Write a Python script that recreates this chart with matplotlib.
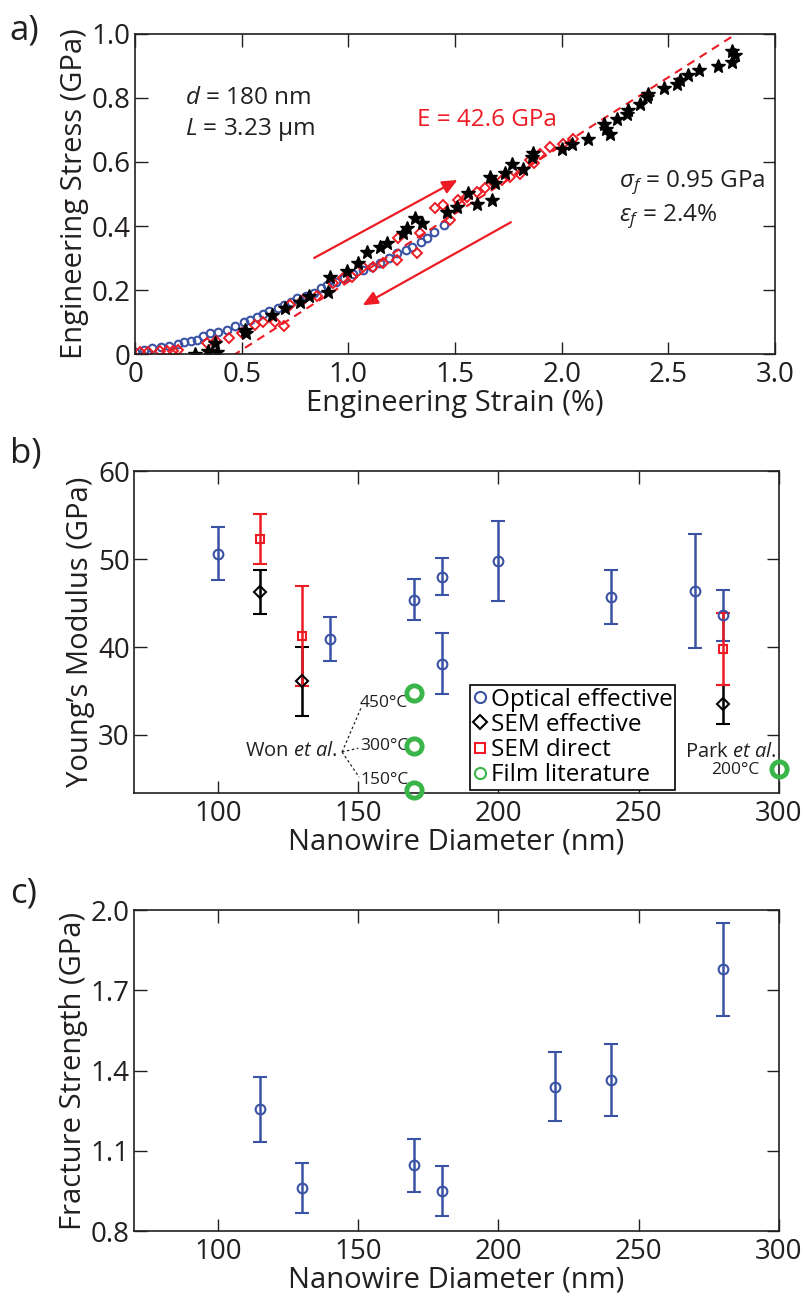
import numpy as np
import matplotlib
matplotlib.use("Agg")
import matplotlib.pyplot as plt
from matplotlib.lines import Line2D

plt.rcParams['font.family'] = ['Open Sans', 'DejaVu Sans']
plt.rcParams['mathtext.fontset'] = 'custom'
plt.rcParams['mathtext.rm'] = 'Open Sans'
plt.rcParams['mathtext.it'] = 'Open Sans:italic'

BLUE = '#3a53a4'
RED = '#ed1c24'
GREEN = '#3ab54a'
DARK = '#231f20'

# ---- panel a: stress-strain ----
opt_strain = [0.0, 0.04, 0.08, 0.12, 0.16, 0.2, 0.23, 0.26, 0.29, 0.32, 0.35, 0.39, 0.43, 0.47,
              0.51, 0.54, 0.57, 0.6, 0.63, 0.67, 0.7, 0.73, 0.76, 0.8, 0.84, 0.87, 0.9, 0.94,
              0.98, 1.02, 1.07, 1.11, 1.15, 1.19, 1.23, 1.27, 1.3, 1.34, 1.37, 1.4, 1.45]
opt_stress = [0.005, 0.012, 0.019, 0.022, 0.026, 0.03, 0.036, 0.04, 0.045, 0.055, 0.065, 0.07, 0.076, 0.088,
              0.099, 0.107, 0.117, 0.125, 0.133, 0.145, 0.154, 0.163, 0.174, 0.182, 0.19, 0.205, 0.216, 0.226,
              0.237, 0.25, 0.263, 0.272, 0.283, 0.3, 0.315, 0.325, 0.335, 0.35, 0.361, 0.382, 0.403]

sem_strain = [0.023, 0.06, 0.117, 0.15, 0.18, 0.2, 0.336, 0.38, 0.44, 0.5, 0.56, 0.6, 0.656, 0.698,
              0.727, 0.789, 0.852, 0.93, 0.977, 1.016, 1.07, 1.117, 1.164, 1.227, 1.234, 1.32, 1.336,
              1.406, 1.445, 1.477, 1.516, 1.523, 1.554, 1.601, 1.64, 1.679, 1.72, 1.757, 1.804, 1.851,
              1.87, 1.898, 1.945, 2.007, 2.054]
sem_stress = [0.005, 0.006, 0.008, 0.01, 0.008, 0.012, 0.034, 0.04, 0.05, 0.065, 0.09, 0.1, 0.1, 0.086,
              0.154, 0.169, 0.18, 0.221, 0.237, 0.242, 0.273, 0.273, 0.283, 0.294, 0.361, 0.315, 0.377,
              0.455, 0.465, 0.418, 0.48, 0.47, 0.491, 0.507, 0.52, 0.538, 0.545, 0.553, 0.564, 0.605,
              0.598, 0.626, 0.647, 0.657, 0.673]

star_strain = [0.28, 0.344, 0.383, 0.375, 0.516, 0.52, 0.64, 0.703, 0.773, 0.813, 0.906, 0.914, 0.992,
               1.047, 1.086, 1.148, 1.18, 1.258, 1.273, 1.313, 1.344, 1.461, 1.508, 1.562, 1.601, 1.664,
               1.671, 1.687, 1.734, 1.765, 1.82, 1.859, 1.867, 2.0, 2.046, 2.124, 2.198, 2.207, 2.226,
               2.257, 2.304, 2.312, 2.367, 2.401, 2.406, 2.479, 2.539, 2.554, 2.593, 2.645, 2.734,
               2.796, 2.796, 2.812]
star_stress = [0.0, 0.008, 0.005, 0.034, 0.076, 0.066, 0.123, 0.143, 0.164, 0.18, 0.195, 0.242, 0.258,
               0.283, 0.32, 0.335, 0.348, 0.377, 0.393, 0.424, 0.408, 0.444, 0.46, 0.502, 0.47, 0.553,
               0.481, 0.535, 0.566, 0.595, 0.579, 0.616, 0.628, 0.642, 0.655, 0.673, 0.718, 0.704, 0.688,
               0.735, 0.751, 0.763, 0.782, 0.803, 0.811, 0.831, 0.844, 0.857, 0.873, 0.889, 0.901,
               0.914, 0.948, 0.935]

fit_E = 42.6          # GPa
fit_offset = 0.47     # % strain intercept
fit_strain = [0.4, 2.95]

# ---- panel b: Young's modulus ----
opt_d = [100, 140, 170, 180, 180, 200, 240, 270, 280]
opt_E = [50.6, 40.9, 45.4, 48.0, 38.1, 49.8, 45.7, 46.4, 43.6]
opt_Eerr = [3.0, 2.5, 2.35, 2.1, 3.45, 4.55, 3.1, 6.5, 2.9]

semeff_d = [115, 130, 280]
semeff_E = [46.2, 36.1, 33.5]
semeff_err = [2.5, 3.9, 2.2]

semdir_d = [115, 130, 280]
semdir_E = [52.3, 41.25, 39.8]
semdir_err = [2.85, 5.7, 4.1]

film_d = [170, 170, 170, 300]
film_E = [34.8, 28.8, 23.8, 26.1]

# ---- panel c: fracture strength ----
frac_d = [115, 130, 170, 180, 220, 240, 280]
frac_s = [1.255, 0.961, 1.046, 0.949, 1.34, 1.364, 1.778]
frac_err = [0.122, 0.094, 0.10, 0.094, 0.13, 0.134, 0.174]

TS = 20   # tick labels
LS = 21   # axis labels
fig = plt.figure(figsize=(8.04, 13.02), dpi=100)
axa = fig.add_axes([0.168, 0.7281, 0.796, 0.2458])
axb = fig.add_axes([0.1667, 0.3909, 0.802, 0.2473])
axc = fig.add_axes([0.1667, 0.0545, 0.802, 0.2465])

def style(ax):
    ax.tick_params(direction='in', length=9, width=1, top=True, right=True,
                   labelsize=TS, colors=DARK)
    ax.tick_params(axis='x', pad=5)
    ax.tick_params(axis='y', pad=3)
    for s in ax.spines.values():
        s.set_linewidth(1.2)
        s.set_color(DARK)

# panel a
axa.plot(opt_strain, opt_stress, 'o', ls='none', mfc='none', mec=BLUE, mew=1.5, ms=5.5)
axa.plot(sem_strain, sem_stress, 'D', ls='none', mfc='none', mec=RED, mew=1.4, ms=5)
fx = np.array(fit_strain)
axa.plot(fx, fit_E / 100 * (fx - fit_offset), '--', color=RED, lw=1.5, dashes=(4, 3))
axa.plot(star_strain, star_stress, '*', ls='none', color='black', ms=10)
axa.annotate('', xy=(1.523, 0.548), xytext=(0.828, 0.296),
             arrowprops=dict(arrowstyle='-|>,head_length=0.9,head_width=0.4', color=RED, lw=1.6))
axa.annotate('', xy=(1.055, 0.148), xytext=(1.773, 0.416),
             arrowprops=dict(arrowstyle='-|>,head_length=0.9,head_width=0.4', color=RED, lw=1.6))
axa.text(0.234, 0.8, r'$d$ = 180 nm', fontsize=17.5, color=DARK, va='center')
axa.text(0.234, 0.7, r'$L$ = 3.23 μm', fontsize=17.5, color=DARK, va='center')
axa.text(1.32, 0.73, 'E = 42.6 GPa', fontsize=17.5, color=RED, va='center')
axa.text(2.27, 0.534, r'$\sigma_f$ = 0.95 GPa', fontsize=17.5, color=DARK, va='center')
axa.text(2.27, 0.43, r'$\varepsilon_f$ = 2.4%', fontsize=17.5, color=DARK, va='center')
axa.set_xlim(0, 3.0)
axa.set_ylim(0, 1.0)
axa.set_xticks(np.arange(0, 3.01, 0.5))
axa.set_xticklabels(['0', '0.5', '1.0', '1.5', '2.0', '2.5', '3.0'])
axa.set_yticks(np.arange(0, 1.01, 0.2))
axa.set_yticklabels(['0', '0.2', '0.4', '0.6', '0.8', '1.0'])
axa.set_xlabel('Engineering Strain (%)', fontsize=LS, color=DARK, labelpad=0)
axa.set_ylabel('Engineering Stress (GPa)', fontsize=LS, color=DARK, labelpad=2)
style(axa)

# panel b
eb = dict(capsize=5, elinewidth=1.8, capthick=1.8, ls='none')
axb.errorbar(opt_d, opt_E, yerr=opt_Eerr, fmt='o', color=BLUE, mfc='none', mew=1.5, ms=7, **eb)
axb.errorbar(semeff_d, semeff_E, yerr=semeff_err, fmt='D', color='black', mfc='none', mew=1.5, ms=6, **eb)
axb.errorbar(semdir_d, semdir_E, yerr=semdir_err, fmt='s', color=RED, mfc='none', mew=1.5, ms=6, **eb)
axb.plot(film_d, film_E, 'o', ls='none', mfc='none', mec=GREEN, mew=3.5, ms=11, clip_on=False, zorder=5)

# Won et al. labels
won_x, won_y = 144.2, 28.07
for tx, ty in [(151.0, 33.1), (150.0, 28.5), (150.3, 25.2)]:
    axb.plot([won_x, tx], [won_y, ty], ls=(0, (2, 2)), color=DARK, lw=0.9)
axb.text(150.6, 33.6, '450°C', fontsize=12.5, color=DARK, va='center')
axb.text(150.6, 28.75, '300°C', fontsize=12.5, color=DARK, va='center')
axb.text(150.6, 24.9, '150°C', fontsize=12.5, color=DARK, va='center')
axb.text(142.6, 28.2, 'Won $et$ $al.$', fontsize=14.5, color=DARK, va='center', ha='right')
axb.text(299.3, 28.1, 'Park $et$ $al.$', fontsize=14.5, color=DARK, va='center', ha='right')
axb.text(293.2, 26.0, '200°C', fontsize=12.5, color=DARK, va='center', ha='right')

handles = [Line2D([], [], marker='o', ls='none', mfc='none', mec=BLUE, mew=1.5, ms=8),
           Line2D([], [], marker='D', ls='none', mfc='none', mec='black', mew=1.5, ms=7),
           Line2D([], [], marker='s', ls='none', mfc='none', mec=RED, mew=1.5, ms=7),
           Line2D([], [], marker='o', ls='none', mfc='none', mec=GREEN, mew=1.5, ms=8)]
leg = axb.legend(handles, ['Optical effective', 'SEM effective', 'SEM direct', 'Film literature'],
                 loc='lower left', bbox_to_anchor=(0.521, 0.01), borderaxespad=0,
                 fontsize=17.5, handlelength=0.6, handletextpad=0.15, labelspacing=0.05,
                 borderpad=0.1, fancybox=False, framealpha=1, edgecolor='black')
leg.get_frame().set_linewidth(1.2)
axb.set_xlim(70, 300)
axb.set_ylim(23.4, 60)
axb.set_xticks([100, 150, 200, 250, 300])
axb.set_yticks([30, 40, 50, 60])
axb.set_xlabel('Nanowire Diameter (nm)', fontsize=LS, color=DARK, labelpad=0)
axb.set_ylabel('Young’s Modulus (GPa)', fontsize=LS, color=DARK, labelpad=2)
style(axb)

# panel c
axc.errorbar(frac_d, frac_s, yerr=frac_err, fmt='o', color=BLUE, mfc='none', mew=1.5, ms=7, **eb)
axc.set_xlim(70, 300)
axc.set_ylim(0.8, 2.0)
axc.set_xticks([100, 150, 200, 250, 300])
axc.set_yticks([0.8, 1.1, 1.4, 1.7, 2.0])
axc.set_yticklabels(['0.8', '1.1', '1.4', '1.7', '2.0'])
axc.set_xlabel('Nanowire Diameter (nm)', fontsize=LS, color=DARK, labelpad=0)
axc.set_ylabel('Fracture Strength (GPa)', fontsize=LS, color=DARK, labelpad=2)
style(axc)

fig.text(0.012, 0.99, 'a)', fontsize=25, color=DARK, va='top')
fig.text(0.012, 0.665, 'b)', fontsize=25, color=DARK, va='top')
fig.text(0.012, 0.327, 'c)', fontsize=25, color=DARK, va='top')

fig.savefig('out.png', dpi=100)
